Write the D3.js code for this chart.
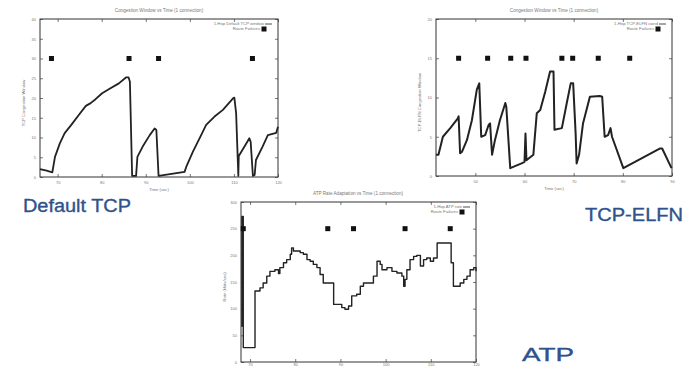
<!DOCTYPE html>
<html>
<head>
<meta charset="utf-8">
<script src="https://cdn.jsdelivr.net/npm/d3@7"></script>
<style>
  body { margin: 0; background: #fff; }
  svg { display: block; }
</style>
</head>
<body>
<svg id="chart" width="694" height="367"></svg>
<script>
// --- Default TCP: congestion window vs time
const tcpTime = [66, 67.5, 68.8, 69.4, 70.5, 71.6, 73.1, 74.8, 76.4, 77.5, 78.6, 80.1, 81.6, 83.9, 85.5, 86.1, 86.4, 86.9,
  87.8, 88.1, 89.3, 90.9, 92.0, 92.4, 92.9, 98.8, 99.2, 100.7, 102.2, 103.7, 105.6, 107.5, 109.8, 110.1, 110.5, 111.0,
  111.1, 112.4, 113.5, 113.8, 114.3, 114.7, 115.0, 116.5, 117.7, 119.6, 120]
const tcpCwnd = [2.0, 1.6, 1.2, 5.1, 8.5, 11.1, 13.2, 15.7, 18.0, 18.7, 19.7, 21.2, 22.2, 23.7, 25.2, 25.2, 24.1, 0.3,
  0.3, 5.1, 7.7, 10.6, 12.3, 11.9, 0.3, 1.3, 2.6, 6.4, 9.8, 13.2, 15.3, 17.0, 19.9, 20.1, 16.1, 0.3,
  5.3, 7.7, 9.8, 8.9, 0.3, 0.5, 4.3, 7.7, 10.6, 11.2, 12.7]
const tcpFailTimes = [68.6, 86.2, 92.9, 114.2]
const tcpFailLevel = 30
const tcpXTicks = [70, 80, 90, 100, 110, 120]
const tcpYTicks = [0, 5, 10, 15, 20, 25, 30, 35, 40]

// --- TCP-ELFN: congestion window vs time
const elfnTime = [42.0, 42.5, 43.4, 44.9, 46.4, 46.6, 46.9, 47.3, 48.3, 49.3, 50.3, 50.8, 51.2, 52.0, 52.7, 53.0, 53.4,
  54.0, 55.0, 56.1, 56.3, 57.1, 59.4, 60.0, 60.2, 60.4, 61.8, 62.5, 63.2, 64.2, 65.2, 65.9, 66.1, 67.6, 68.6, 69.4,
  69.9, 70.4, 70.6, 71.1, 71.9, 73.3, 75.3, 75.8, 76.3, 77.0, 77.5, 77.8, 80.1, 87.5, 88.0, 89.9]
const elfnCwnd = [2.7, 2.7, 5.0, 6.1, 7.3, 7.6, 2.9, 3.1, 4.6, 7.1, 11.0, 11.8, 5.0, 5.2, 6.5, 6.7, 2.7,
  4.6, 7.1, 9.3, 8.8, 1.0, 1.6, 1.8, 5.4, 2.0, 2.7, 8.0, 8.4, 10.7, 13.3, 13.3, 5.9, 6.1, 9.3, 11.8,
  11.8, 5.4, 1.6, 2.7, 6.7, 10.1, 10.2, 10.1, 5.0, 5.2, 6.1, 5.0, 1.0, 3.5, 3.5, 1.0]
const elfnFailTimes = [46.6, 52.5, 57.2, 60.3, 67.6, 69.8, 75.0, 81.4]
const elfnFailLevel = 15
const elfnXTicks = [50, 60, 70, 80, 90]
const elfnYTicks = [0, 5, 10, 15, 20]

// --- ATP: rate adaptation vs time
const atpTime = [68.07, 68.2, 68.4, 68.5, 70.7, 71.1, 72.2, 72.9, 73.7, 74.4, 75.5, 76.3, 76.6, 77.4, 78.1, 78.9, 79.2,
  79.6, 80.3, 81.1, 81.8, 82.6, 83.3, 84.0, 84.8, 85.5, 86.2, 88.1, 88.5, 89.6, 90.3, 91.0, 91.8, 92.5, 93.6, 94.4,
  95.1, 97.0, 97.3, 98.1, 98.8, 99.2, 100.3, 101.4, 102.5, 103.6, 104.0, 104.3, 104.7, 105.4, 106.2, 106.9, 107.7,
  108.4, 109.1, 109.9, 110.6, 111.4, 114.2, 114.5, 115.0, 115.8, 116.5, 117.3, 118.0, 118.7, 119.5, 120]
const atpRate = [67, 273, 273, 27, 27, 133, 139, 148, 161, 170, 173, 166, 177, 186, 192, 202, 214,
  208, 208, 205, 202, 192, 189, 183, 177, 164, 148, 148, 108, 108, 102, 99, 105, 124, 127, 142,
  148, 148, 161, 189, 183, 173, 177, 170, 167, 161, 142, 155, 173, 192, 198, 200, 180,
  192, 195, 189, 195, 223, 223, 186, 142, 142, 148, 155, 161, 173, 177, 170]
const atpFailTimes = [68.5, 87.2, 92.9, 104.3, 114.3]
const atpFailLevel = 250
const atpXTicks = [70, 80, 90, 100, 110, 120]
const atpYTicks = [0, 50, 100, 150, 200, 250, 300]

const svg = d3.select('#chart')
const ink = '#222'
const faint = '#777'

function drawPanel(p) {
  const x = d3.scaleLinear().domain(p.xDomain).range([p.left, p.right])
  const y = d3.scaleLinear().domain(p.yDomain).range([p.bottom, p.top])
  const g = svg.append('g')

  // ticks on all four sides, pointing inward (gnuplot style)
  const styleAxis = sel => {
    sel.select('.domain').remove()
    sel.selectAll('line').attr('stroke', '#555').attr('stroke-width', 0.8)
    sel.selectAll('text').attr('fill', faint).attr('font-size', 4).attr('font-family', 'Liberation Sans, Arial, sans-serif')
  }
  g.append('g').attr('transform', `translate(0,${p.bottom})`)
    .call(d3.axisBottom(x).tickValues(p.xTicks).tickSizeInner(-3).tickSizeOuter(0).tickPadding(p.xPad).tickFormat(d3.format('d')))
    .call(styleAxis)
  g.append('g').attr('transform', `translate(0,${p.top})`)
    .call(d3.axisTop(x).tickValues(p.xTicks).tickSizeInner(-3).tickSizeOuter(0).tickFormat(''))
    .call(styleAxis)
  g.append('g').attr('transform', `translate(${p.left},0)`)
    .call(d3.axisLeft(y).tickValues(p.yTicks).tickSizeInner(-3).tickSizeOuter(0).tickPadding(4).tickFormat(d3.format('d')))
    .call(styleAxis)
  g.append('g').attr('transform', `translate(${p.right},0)`)
    .call(d3.axisRight(y).tickValues(p.yTicks).tickSizeInner(-3).tickSizeOuter(0).tickFormat(''))
    .call(styleAxis)

  // frame
  g.append('rect')
    .attr('x', p.left).attr('y', p.top)
    .attr('width', p.right - p.left).attr('height', p.bottom - p.top)
    .attr('fill', 'none').attr('stroke', '#333').attr('stroke-width', 1)

  // series line
  const line = d3.line().x(d => x(d[0])).y(d => y(d[1])).curve(p.curve || d3.curveLinear)
  g.append('path')
    .datum(d3.zip(p.time, p.values))
    .attr('d', line)
    .attr('fill', 'none').attr('stroke', ink).attr('stroke-width', p.lineWidth)
    .attr('stroke-linejoin', 'round')

  // route failures
  g.selectAll('.fail')
    .data(p.fails)
    .enter()
    .append('rect')
    .attr('class', 'fail')
    .attr('x', d => x(d) - 2.5).attr('y', y(p.failLevel) - 2.5)
    .attr('width', 5).attr('height', 5)
    .attr('fill', '#111')

  const txt = (tx, ty, s, anchor, size) => g.append('text')
    .attr('x', tx).attr('y', ty).attr('text-anchor', anchor || 'middle')
    .attr('font-size', size || 4.2).attr('fill', faint)
    .attr('font-family', 'Liberation Sans, Arial, sans-serif')
    .text(s)

  // title, axis labels
  txt(p.titleX, p.top - 7, p.title, 'middle', 4.6)
  if (p.xLabel) txt(p.titleX, p.bottom + 13.5, p.xLabel)
  g.append('text')
    .attr('transform', `translate(${p.left - 15},${(p.top + p.bottom) / 2 + 5}) rotate(-90)`)
    .attr('text-anchor', 'middle').attr('font-size', 4.2).attr('fill', faint)
    .attr('font-family', 'Liberation Sans, Arial, sans-serif')
    .text(p.yLabel)

  // legend
  txt(p.right - 14, p.top + 6, p.legend, 'end')
  g.append('line')
    .attr('x1', p.right - 13).attr('x2', p.right - 6)
    .attr('y1', p.top + 5).attr('y2', p.top + 5)
    .attr('stroke', ink).attr('stroke-width', 0.8)
  txt(p.right - 18, p.top + 11, 'Route Failures', 'end')
  g.append('rect')
    .attr('x', p.right - 16.5).attr('y', p.top + 7.5)
    .attr('width', 5).attr('height', 5).attr('fill', '#111')
}

drawPanel({
  left: 40, right: 278, top: 19, bottom: 177, titleX: 159, xPad: 4,
  xDomain: [66, 120], yDomain: [0, 40], xTicks: tcpXTicks, yTicks: tcpYTicks,
  time: tcpTime, values: tcpCwnd, fails: tcpFailTimes, failLevel: tcpFailLevel, lineWidth: 1.8,
  title: 'Congestion Window vs Time (1 connection)', xLabel: 'Time (sec)',
  yLabel: 'TCP Congestion Window', legend: '1-Hop Default TCP window'
})

drawPanel({
  left: 436, right: 672, top: 19, bottom: 176, titleX: 554, xPad: 4,
  xDomain: [42, 90], yDomain: [0, 20], xTicks: elfnXTicks, yTicks: elfnYTicks,
  time: elfnTime, values: elfnCwnd, fails: elfnFailTimes, failLevel: elfnFailLevel, lineWidth: 2,
  title: 'Congestion Window vs Time (1 connection)', xLabel: 'Time (sec)',
  yLabel: 'TCP-ELFN Congestion Window', legend: '1-Hop TCP-ELFN cwnd'
})

drawPanel({
  left: 241, right: 476, top: 202, bottom: 362, titleX: 358, xPad: 1,
  xDomain: [68, 120], yDomain: [0, 300], xTicks: atpXTicks, yTicks: atpYTicks,
  time: atpTime, values: atpRate, fails: atpFailTimes, failLevel: atpFailLevel, lineWidth: 1.4,
  curve: d3.curveStepAfter,
  title: 'ATP Rate Adaptation vs Time (1 connection)', xLabel: null,
  yLabel: 'Rate (kbits/sec)', legend: '1-Hop ATP rate'
})

// protocol names
const bigLabel = (tx, ty, s, w) => svg.append('text')
  .attr('x', tx).attr('y', ty)
  .attr('font-size', 18).attr('fill', '#30528c')
  .attr('stroke', '#30528c').attr('stroke-width', 0.35)
  .attr('font-family', 'Liberation Sans, Arial, sans-serif')
  .attr('textLength', w).attr('lengthAdjust', 'spacingAndGlyphs')
  .text(s)
bigLabel(23, 212, 'Default TCP', 108)
bigLabel(585, 221, 'TCP-ELFN', 98)
bigLabel(522, 361, 'ATP', 52)
</script>
</body>
</html>
